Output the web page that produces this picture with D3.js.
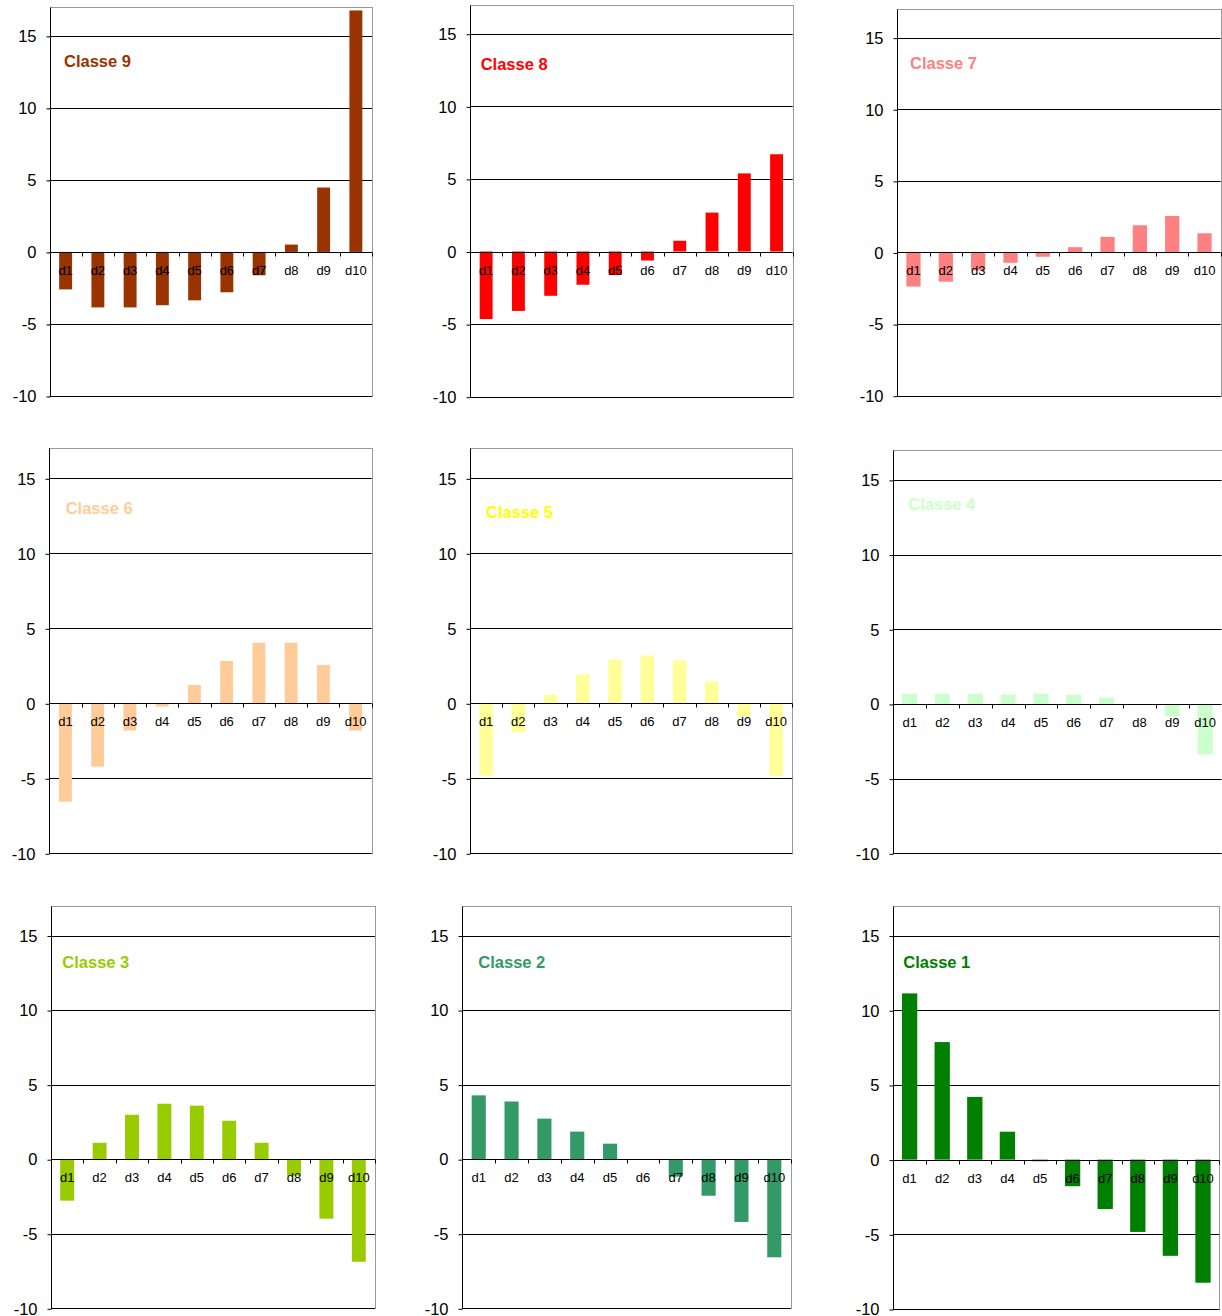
<!DOCTYPE html>
<html><head><meta charset="utf-8">
<script src="https://cdn.jsdelivr.net/npm/d3@7"></script>
<style>body{margin:0;background:#fff}svg{display:block}</style>
</head><body>
<svg id="c" width="1222" height="1316"></svg>
<script>
const categories = ["d1","d2","d3","d4","d5","d6","d7","d8","d9","d10"];
const yTicks = [-10,-5,0,5,10,15];
const yDomain = [-10,17];
const titles = ["Classe 9","Classe 8","Classe 7","Classe 6","Classe 5","Classe 4","Classe 3","Classe 2","Classe 1"];
const classe9 = [-2.6,-3.85,-3.85,-3.7,-3.36,-2.8,-1.62,0.51,4.47,16.76];
const classe8 = [-4.65,-4.09,-3.05,-2.29,-1.62,-0.62,0.74,2.68,5.38,6.70];
const classe7 = [-2.38,-2.04,-1.25,-0.72,-0.3,0.37,1.09,1.9,2.55,1.34];
const classe6 = [-6.56,-4.22,-1.82,-0.22,1.22,2.82,4.04,4.04,2.56,-1.82];
const classe5 = [-4.83,-1.93,0.55,1.93,2.92,3.19,2.86,1.46,-0.89,-4.83];
const classe4 = [0.69,0.69,0.69,0.62,0.69,0.62,0.42,0.0,-0.82,-3.38];
const classe3 = [-2.78,1.1,2.98,3.72,3.59,2.58,1.1,-1.1,-3.99,-6.88];
const classe2 = [4.28,3.87,2.72,1.85,1.04,0.0,-1.17,-2.45,-4.21,-6.58];
const classe1 = [11.13,7.87,4.2,1.87,-0.11,-1.78,-3.31,-4.84,-6.44,-8.24];
const seriesValues = [classe9,classe8,classe7,classe6,classe5,classe4,classe3,classe2,classe1];
const barColors = ["#993300","#FF0000","#FF8080","#FFCC99","#FFFF99","#CCFFCC","#99CC00","#339966","#008000"];
const titleColors = ["#993300","#FF0000","#FF8080","#FFCC99","#FFFF00","#CCFFCC","#99CC00","#339966","#008000"];

// panel geometry (pixels)
const layout = [
  {left:49.5, right:372, top:7, bottom:396, tdx:14.5, tdy:60.3, bar:0.40},
  {left:470, right:792.7, top:4.7, bottom:396.7, tdx:10.7, tdy:65.3, bar:0.40},
  {left:897.3, right:1220.7, top:9, bottom:395.7, tdx:12.7, tdy:60.3, bar:0.44},
  {left:49.3, right:371.7, top:448.3, bottom:853.3, tdx:16.4, tdy:65.7, bar:0.40},
  {left:470, right:792.3, top:448.3, bottom:853.3, tdx:16, tdy:69.4, bar:0.42},
  {left:893.3, right:1221.5, top:450, bottom:853.3, tdx:15, tdy:60, bar:0.46},
  {left:51, right:375, top:905.7, bottom:1308.3, tdx:11.3, tdy:62, bar:0.43},
  {left:462.3, right:790.7, top:905.7, bottom:1308.3, tdx:16, tdy:62, bar:0.43},
  {left:893.3, right:1219.3, top:905.7, bottom:1309, tdx:10, tdy:62, bar:0.47}
];

const svg = d3.select("#c");
svg.append("rect").attr("width",1222).attr("height",1316).attr("fill","#fff");
const font = "Arial, 'Liberation Sans', sans-serif";
const snap = v => Math.round(v) + 0.5;

titles.forEach((title, i) => {
  const L = layout[i];
  const vals = seriesValues[i];
  const x = d3.scaleBand().domain(categories).range([L.left, L.right]).paddingInner(1 - L.bar).paddingOuter((1 - L.bar) / 2);
  const xb = d3.scaleBand().domain(categories).range([L.left, L.right]);
  const y = d3.scaleLinear().domain(yDomain).range([L.bottom, L.top]);
  const g = svg.append("g");

  // plot border (gray)
  g.append("rect").attr("x", snap(L.left)).attr("y", snap(L.top))
    .attr("width", Math.round(L.right) - Math.round(L.left)).attr("height", Math.round(L.bottom) - Math.round(L.top))
    .attr("fill","#fff").attr("stroke","#999").attr("stroke-width",1);

  // gridlines
  g.selectAll("line.grid").data(yTicks.filter(t => t !== 0)).join("line")
    .attr("x1", L.left).attr("x2", L.right)
    .attr("y1", d => snap(y(d))).attr("y2", d => snap(y(d)))
    .attr("stroke","#000").attr("stroke-width",1);

  // bars
  g.selectAll("rect.bar").data(vals.map((v,k) => ({c:categories[k], v}))).join("rect")
    .attr("x", d => x(d.c)).attr("width", x.bandwidth())
    .attr("y", d => y(Math.max(0, d.v)))
    .attr("height", d => Math.abs(y(d.v) - y(0)))
    .attr("fill", barColors[i]);

  // y axis
  const yAxis = d3.axisLeft(y).tickValues(yTicks).tickSize(4).tickPadding(10).tickFormat(d => String(d));
  const ya = g.append("g").attr("transform", `translate(${snap(L.left)},0.5)`).call(yAxis);
  ya.select(".domain").attr("d", `M0,${Math.round(L.top)}V${Math.round(L.bottom)}`).attr("stroke","#000");
  ya.selectAll(".tick line").attr("stroke","#000");
  ya.selectAll(".tick text").attr("font-family", font).attr("font-size", 16.5).attr("fill","#000");

  // zero axis with ticks at category boundaries
  const y0 = snap(y(0));
  g.append("line").attr("x1", L.left).attr("x2", L.right).attr("y1", y0).attr("y2", y0)
    .attr("stroke","#000").attr("stroke-width",1);
  g.selectAll("line.xt").data(categories).join("line")
    .attr("x1", d => snap(xb(d) + xb.bandwidth())).attr("x2", d => snap(xb(d) + xb.bandwidth()))
    .attr("y1", y0).attr("y2", y0 + 4).attr("stroke","#000");

  // category labels
  g.selectAll("text.cat").data(categories).join("text")
    .attr("x", d => xb(d) + xb.bandwidth()/2).attr("y", y(0) + 23)
    .attr("text-anchor","middle").attr("font-family", font).attr("font-size", 13).attr("fill","#000")
    .text(d => d);

  // title
  g.append("text").attr("x", L.left + L.tdx).attr("y", L.top + L.tdy)
    .attr("font-family", font).attr("font-weight","bold").attr("font-size", 16.5)
    .attr("fill", titleColors[i]).text(title);
});
</script>
</body></html>
